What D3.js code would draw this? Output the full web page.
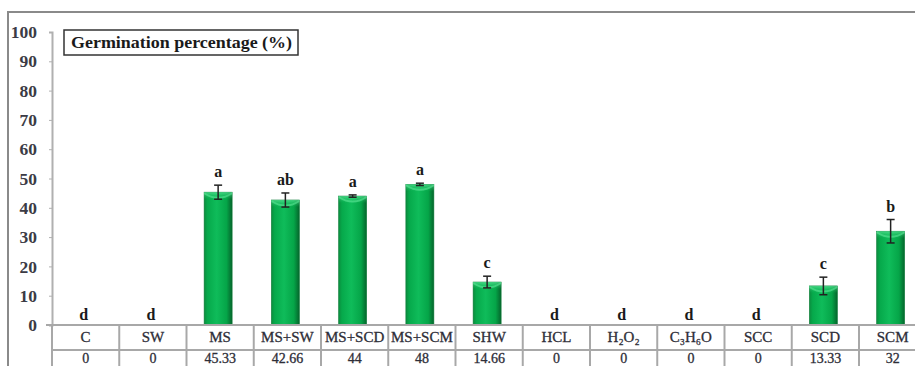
<!DOCTYPE html>
<html>
<head>
<meta charset="utf-8">
<script src="https://cdn.jsdelivr.net/npm/d3@7"></script>
<style>
  html, body { margin: 0; padding: 0; background: #fff; }
  svg { display: block; }
</style>
</head>
<body>
<svg id="chart" width="915" height="366"></svg>
<script>
// Germination percentage per seed treatment
const categories = ["C", "SW", "MS", "MS+SW", "MS+SCD", "MS+SCM", "SHW", "HCL", "H₂O₂", "C₃H₆O", "SCC", "SCD", "SCM"];
const values     = [0, 0, 45.33, 42.66, 44, 48, 14.66, 0, 0, 0, 0, 13.33, 32];
const valueLabels = ["0", "0", "45.33", "42.66", "44", "48", "14.66", "0", "0", "0", "0", "13.33", "32"];
const errors     = [0, 0, 2.4, 2.4, 0.4, 0.4, 2.0, 0, 0, 0, 0, 3.0, 4.0];
const letters    = ["d", "d", "a", "ab", "a", "a", "c", "d", "d", "d", "d", "c", "b"];
const yTicks     = [0, 10, 20, 30, 40, 50, 60, 70, 80, 90, 100];
const title = "Germination percentage (%)";

const svg = d3.select("#chart");
const serif = "Liberation Serif, Times New Roman, DejaVu Serif, serif";

const left = 52, bandW = 67.25;
const x = d3.scaleBand().domain(categories).range([left, left + bandW * categories.length]).padding(0);
const y = d3.scaleLinear().domain([0, 100]).range([325, 32]);
const rowH = 25;
const y0 = y(0);

// Outer frame (left and top edges)
svg.append("line").attr("x1", 8).attr("x2", 8).attr("y1", 11).attr("y2", 366)
  .attr("stroke", "#8a8a8a").attr("stroke-width", 2);
svg.append("line").attr("x1", 7).attr("x2", 915).attr("y1", 12).attr("y2", 12)
  .attr("stroke", "#8a8a8a").attr("stroke-width", 2);

// Bar fill: cylinder-like shading
const defs = svg.append("defs");
const grad = defs.append("linearGradient").attr("id", "barFill")
  .attr("x1", "0%").attr("x2", "100%").attr("y1", "0%").attr("y2", "0%");
[["0%", "#0b8d3e"], ["12%", "#06a94b"], ["45%", "#0fbc5a"], ["80%", "#05a548"], ["100%", "#05652c"]]
  .forEach(([o, c]) => grad.append("stop").attr("offset", o).attr("stop-color", c));
const capGrad = defs.append("linearGradient").attr("id", "capFill")
  .attr("x1", "0%").attr("x2", "0%").attr("y1", "0%").attr("y2", "100%");
capGrad.append("stop").attr("offset", "0%").attr("stop-color", "#5fe89a");
capGrad.append("stop").attr("offset", "100%").attr("stop-color", "#1fc466").attr("stop-opacity", 0);

// Y axis
const yAxis = d3.axisLeft(y).tickValues(yTicks).tickSize(3).tickPadding(12);
const gy = svg.append("g").attr("transform", `translate(${left},0)`).call(yAxis);
gy.select(".domain").attr("stroke", "#b0b0b0").attr("stroke-width", 2);
gy.selectAll(".tick line").attr("stroke", "#b0b0b0").attr("stroke-width", 1);
gy.selectAll(".tick text")
  .attr("font-family", serif).attr("font-size", 17.5).attr("font-weight", "bold")
  .attr("fill", "#3b3b45");

// Title box
const tg = svg.append("g");
tg.append("rect").attr("x", 64).attr("y", 30).attr("width", 234).attr("height", 25)
  .attr("fill", "#fff").attr("stroke", "#333").attr("stroke-width", 1.5);
tg.append("text").attr("x", 71).attr("y", 48)
  .attr("font-family", serif).attr("font-size", 16).attr("font-weight", "bold")
  .attr("textLength", 221).attr("lengthAdjust", "spacingAndGlyphs")
  .attr("fill", "#1a1a1a").text(title);

// Bars
const barW = 28, barShift = -2;
const data = categories.map((c, i) => ({ c, v: values[i], e: errors[i], l: letters[i], lab: valueLabels[i] }));
const bars = svg.append("g");
data.filter(d => d.v > 0).forEach(d => {
  const cx = x(d.c) + x.bandwidth() / 2 + barShift;
  const top = y(d.v);
  bars.append("rect").attr("x", cx - barW / 2).attr("y", top).attr("width", barW).attr("height", y0 - top)
    .attr("fill", "url(#barFill)").attr("stroke", "#0a7a36").attr("stroke-width", 0.6);
  bars.append("path")
    .attr("d", `M${cx - barW / 2},${top} Q${cx},${top + 9} ${cx + barW / 2},${top} L${cx + barW / 2},${top + 2} Q${cx},${top + 11} ${cx - barW / 2},${top + 2}Z`)
    .attr("fill", "#6ff0a6").attr("opacity", 0.55);
  bars.append("rect").attr("x", cx - barW / 2).attr("y", top).attr("width", barW).attr("height", 7)
    .attr("fill", "url(#capFill)").attr("opacity", 0.7);
});

// Error bars
const eg = svg.append("g").attr("stroke", "#222").attr("stroke-width", 1.5);
data.filter(d => d.e > 0).forEach(d => {
  const cx = x(d.c) + x.bandwidth() / 2 + barShift;
  const t = y(d.v + d.e), b = y(d.v - d.e);
  eg.append("line").attr("x1", cx).attr("x2", cx).attr("y1", t).attr("y2", b);
  eg.append("line").attr("x1", cx - 4).attr("x2", cx + 4).attr("y1", t).attr("y2", t);
  eg.append("line").attr("x1", cx - 4).attr("x2", cx + 4).attr("y1", b).attr("y2", b);
});

// Significance letters
svg.append("g").selectAll("text").data(data).join("text")
  .attr("x", d => x(d.c) + x.bandwidth() / 2 + barShift)
  .attr("y", d => y(d.v + d.e) - (d.v > 0 ? 8 : 5))
  .attr("text-anchor", "middle")
  .attr("font-family", serif).attr("font-size", 16).attr("font-weight", "bold")
  .attr("fill", "#1a1a1a")
  .text(d => d.l);

// Data table under the axis
const grid = svg.append("g").attr("stroke", "#a8a8a8").attr("stroke-width", 2);
const xEnd = left + bandW * categories.length;
grid.append("line").attr("x1", left - 6).attr("x2", xEnd).attr("y1", y0).attr("y2", y0);
grid.append("line").attr("x1", left).attr("x2", xEnd).attr("y1", y0 + rowH).attr("y2", y0 + rowH);
categories.forEach(c => {
  grid.append("line").attr("x1", x(c)).attr("x2", x(c)).attr("y1", y0).attr("y2", y0 + 2 * rowH + 10);
});
grid.append("line").attr("x1", xEnd).attr("x2", xEnd).attr("y1", y0).attr("y2", y0 + 2 * rowH + 10);

const tbl = svg.append("g").attr("font-family", serif)
  .attr("fill", "#2e2e38").attr("text-anchor", "middle");
data.forEach(d => {
  const cx = x(d.c) + x.bandwidth() / 2;
  tbl.append("text").attr("x", cx).attr("y", y0 + 17).attr("font-size", 15)
    .attr("stroke", "#2e2e38").attr("stroke-width", 0.3).text(d.c);
  tbl.append("text").attr("x", cx).attr("y", 363).attr("font-size", 14)
    .attr("stroke", "#2e2e38").attr("stroke-width", 0.3).text(d.lab);
});
</script>
</body>
</html>
